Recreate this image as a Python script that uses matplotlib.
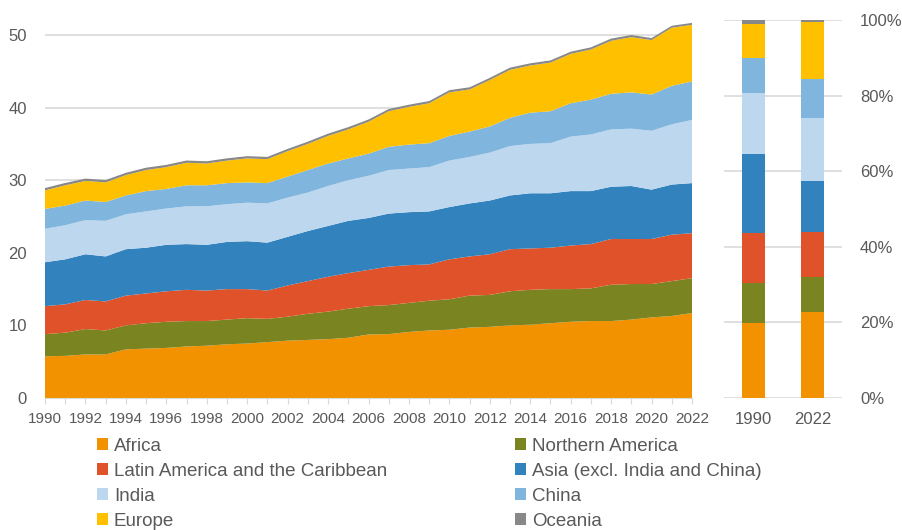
import matplotlib.pyplot as plt
from matplotlib.patches import Patch
import numpy as np

plt.rcParams['font.family'] = ['Liberation Sans', 'DejaVu Sans']

years = list(range(1990, 2023))

africa = [5.75, 5.8, 6.0, 6.0, 6.7, 6.8, 6.9, 7.1, 7.2, 7.4, 7.5, 7.7, 7.9, 8.0, 8.1, 8.3, 8.75,
          8.8, 9.1, 9.3, 9.4, 9.7, 9.8, 10.0, 10.1, 10.3, 10.5, 10.6, 10.6, 10.8, 11.1, 11.3, 11.7]
northern_america = [3.05, 3.2, 3.5, 3.3, 3.3, 3.5, 3.6, 3.5, 3.4, 3.4, 3.5, 3.2, 3.3, 3.6, 3.8, 4.0, 3.9,
                    4.0, 4.0, 4.1, 4.2, 4.4, 4.4, 4.7, 4.8, 4.7, 4.5, 4.5, 5.0, 4.9, 4.6, 4.8, 4.8]
latin_america = [3.85, 3.9, 4.0, 4.0, 4.1, 4.1, 4.2, 4.3, 4.2, 4.2, 4.0, 3.9, 4.3, 4.5, 4.8, 4.9, 5.0,
                 5.3, 5.2, 5.0, 5.5, 5.4, 5.6, 5.8, 5.7, 5.7, 6.0, 6.1, 6.3, 6.2, 6.2, 6.4, 6.2]
asia = [6.05, 6.2, 6.3, 6.2, 6.4, 6.3, 6.4, 6.3, 6.3, 6.5, 6.6, 6.6, 6.7, 6.9, 7.0, 7.2, 7.15,
        7.3, 7.3, 7.3, 7.2, 7.3, 7.4, 7.4, 7.6, 7.5, 7.5, 7.3, 7.2, 7.3, 6.8, 6.9, 6.9]
india = [4.6, 4.7, 4.7, 4.9, 4.8, 5.0, 5.0, 5.2, 5.3, 5.2, 5.3, 5.4, 5.4, 5.3, 5.5, 5.6, 5.8,
         6.0, 6.0, 6.1, 6.4, 6.4, 6.6, 6.8, 6.8, 6.9, 7.5, 7.8, 7.9, 7.9, 8.1, 8.3, 8.7]
china = [2.75, 2.7, 2.7, 2.6, 2.6, 2.8, 2.7, 2.9, 2.9, 2.9, 2.8, 2.8, 2.9, 3.1, 3.1, 3.0, 3.05,
         3.2, 3.3, 3.3, 3.4, 3.5, 3.6, 3.9, 4.3, 4.4, 4.6, 4.8, 4.9, 5.0, 5.0, 5.3, 5.3]
europe = [2.55, 2.8, 2.7, 2.7, 2.8, 2.9, 3.0, 3.1, 3.0, 3.1, 3.3, 3.3, 3.5, 3.6, 3.8, 4.0, 4.4,
          4.9, 5.2, 5.5, 6.0, 5.8, 6.4, 6.6, 6.5, 6.7, 6.8, 6.9, 7.3, 7.6, 7.5, 8.0, 7.8]
oceania = [0.32, 0.32, 0.32, 0.32, 0.32, 0.32, 0.31, 0.31, 0.31, 0.31, 0.31, 0.31, 0.31, 0.31, 0.31, 0.31, 0.31,
           0.3, 0.3, 0.3, 0.3, 0.3, 0.3, 0.3, 0.3, 0.3, 0.3, 0.3, 0.3, 0.3, 0.28, 0.27, 0.27]

names = ['Africa', 'Northern America', 'Latin America and the Caribbean',
         'Asia (excl. India and China)', 'India', 'China', 'Europe', 'Oceania']
colors = ['#F39200', '#7A8522', '#E0532A', '#3282BE', '#BDD7EE', '#80B6DD', '#FFC000', '#888888']
series = [africa, northern_america, latin_america, asia, india, china, europe, oceania]

bar_labels = ['1990', '2022']

txt = '#595959'
grid = '#D9D9D9'

fig = plt.figure(figsize=(9.02, 5.30), dpi=100)

# stacked area, absolute values
ax = fig.add_axes([45/902, 132/530, 647/902, 55*7.26/530])
ax.stackplot(years, *series, colors=colors, linewidth=0, zorder=2)
ax.set_xlim(1990, 2022)
ax.set_ylim(0, 55)
ax.set_yticks(range(0, 51, 10))
ax.set_xticks(years)
ax.set_xticklabels([str(y) if y % 2 == 0 else '' for y in years])
ax.grid(axis='y', color=grid, linewidth=1.2, zorder=0)
ax.set_axisbelow(True)
for s in ['top', 'right', 'left']:
    ax.spines[s].set_visible(False)
ax.spines['bottom'].set_color(grid)
ax.spines['bottom'].set_zorder(3)
ax.tick_params(axis='y', length=0, pad=13, labelsize=12, labelcolor=txt)
ax.tick_params(axis='x', length=4, color=grid, pad=6, labelsize=11, labelcolor=txt)

# 100% stacked bars for first and last year
axb = fig.add_axes([724/902, 132/530, 118/902, 378/530])
first = np.array([s[0] for s in series])
last = np.array([s[-1] for s in series])
shares = np.vstack([first / first.sum(), last / last.sum()]) * 100
bottom = np.zeros(2)
for k in range(len(series)):
    axb.bar([0, 1], shares[:, k], 0.4, bottom=bottom, color=colors[k], zorder=2)
    bottom += shares[:, k]
axb.set_xlim(-0.5, 1.5)
axb.set_ylim(0, 100)
axb.set_yticks(range(0, 101, 20))
axb.set_yticklabels([f'{v}%' for v in range(0, 101, 20)])
axb.set_xticks([0, 1])
axb.set_xticklabels(bar_labels)
axb.yaxis.tick_right()
axb.grid(axis='y', color=grid, linewidth=1.2, zorder=0)
axb.set_axisbelow(True)
for s in axb.spines.values():
    s.set_visible(False)
axb.tick_params(axis='y', length=0, pad=13, labelsize=12, labelcolor=txt)
axb.tick_params(axis='x', length=0, pad=10, labelsize=12, labelcolor=txt)

handles = [Patch(facecolor=c, edgecolor='none') for c in colors]
leg_kw = dict(frameon=False, fontsize=13.5, labelcolor=txt, handlelength=0.6, handleheight=0.6,
              handletextpad=0.3, labelspacing=0.42, borderpad=0, borderaxespad=0, loc='upper left')
fig.legend(handles[0::2], names[0::2], bbox_to_anchor=(97/902, 1 - 438/530), **leg_kw)
fig.legend(handles[1::2], names[1::2], bbox_to_anchor=(515/902, 1 - 438/530), **leg_kw)

fig.savefig('out.png', dpi=100)
